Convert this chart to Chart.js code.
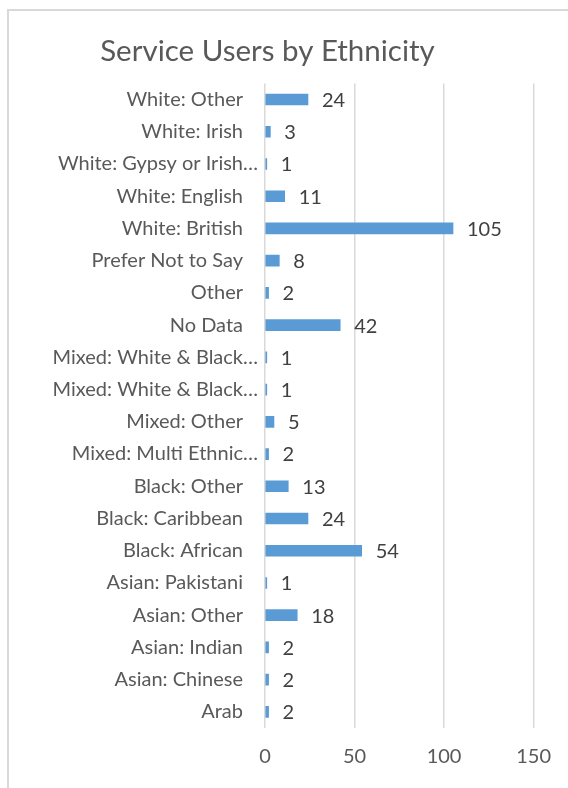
<!DOCTYPE html>
<html>
<head>
<meta charset="utf-8">
<script src="https://cdn.jsdelivr.net/npm/chart.js@4"></script>
<style>
  html, body { margin: 0; padding: 0; overflow: hidden; background: #fff; }
  #frame { position: absolute; left: 7px; top: 9px; width: 640px; height: 820px; border: 2px solid #d9d9d9; }
  #wrap { position: absolute; left: 0; top: 0; width: 568px; height: 788px; }
</style>
</head>
<body>
<div id="frame"></div>
<div id="wrap"><canvas id="chart"></canvas></div>
<script>
// ethnicity groups, top to bottom
const categories = ['White: Other', 'White: Irish', 'White: Gypsy or Irish\u2026', 'White: English',
  'White: British', 'Prefer Not to Say', 'Other', 'No Data', 'Mixed: White & Black\u2026',
  'Mixed: White & Black\u2026', 'Mixed: Other', 'Mixed: Multi Ethnic\u2026', 'Black: Other',
  'Black: Caribbean', 'Black: African', 'Asian: Pakistani', 'Asian: Other', 'Asian: Indian',
  'Asian: Chinese', 'Arab'];
const users = [24, 3, 1, 11, 105, 8, 2, 42, 1, 1, 5, 2, 13, 24, 54, 1, 18, 2, 2, 2];
const xTicks = [0, 50, 100, 150];

const font = 'Lato, "Open Sans", sans-serif';

// category names; shortened ones with an ellipsis sit closer to the axis
const categoryLabels = {
  id: 'categoryLabels',
  afterDraw(chart) {
    const ctx = chart.ctx;
    const y = chart.scales.y;
    ctx.save();
    ctx.font = '20px ' + font;
    ctx.fillStyle = '#595959';
    ctx.textAlign = 'right';
    ctx.textBaseline = 'middle';
    categories.forEach((name, i) => {
      const gap = name.endsWith('\u2026') ? 7 : 22;
      ctx.fillText(name, chart.chartArea.left - gap, y.getPixelForTick(i));
    });
    ctx.restore();
  }
};

// writes each count just past the end of its bar
const valueLabels = {
  id: 'valueLabels',
  afterDatasetsDraw(chart) {
    const ctx = chart.ctx;
    const meta = chart.getDatasetMeta(0);
    ctx.save();
    ctx.font = '20px ' + font;
    ctx.fillStyle = '#404040';
    ctx.textAlign = 'left';
    ctx.textBaseline = 'middle';
    meta.data.forEach((bar, i) => {
      ctx.fillText(users[i], bar.x + 14, bar.y + 1);
    });
    ctx.restore();
  }
};

new Chart(document.getElementById('chart'), {
  type: 'bar',
  data: {
    labels: categories,
    datasets: [{
      data: users,
      backgroundColor: '#5b9bd5',
      barThickness: 11
    }]
  },
  plugins: [valueLabels, categoryLabels],
  options: {
    indexAxis: 'y',
    responsive: true,
    maintainAspectRatio: false,
    animation: false,
    layout: { padding: { top: 24, right: 33, bottom: 0, left: 0 } },
    plugins: {
      legend: { display: false },
      tooltip: { enabled: false },
      title: {
        display: true,
        text: 'Service Users by Ethnicity',
        color: '#595959',
        font: { family: font, size: 29.5, weight: 'normal' },
        padding: { top: 10, bottom: 14 }
      }
    },
    scales: {
      x: {
        min: 0,
        max: 150,
        afterBuildTicks(scale) { scale.ticks = xTicks.map(v => ({ value: v })); },
        afterFit(scale) { scale.height = 60; },
        grid: { color: '#d9d9d9', lineWidth: 1.5, drawTicks: false },
        border: { display: false },
        ticks: { color: '#595959', font: { family: font, size: 20 }, padding: 17 }
      },
      y: {
        grid: { display: false, drawTicks: false },
        border: { display: false },
        afterFit(scale) { scale.width = 265; },
        ticks: { display: false, autoSkip: false }
      }
    }
  }
});
</script>
</body>
</html>
